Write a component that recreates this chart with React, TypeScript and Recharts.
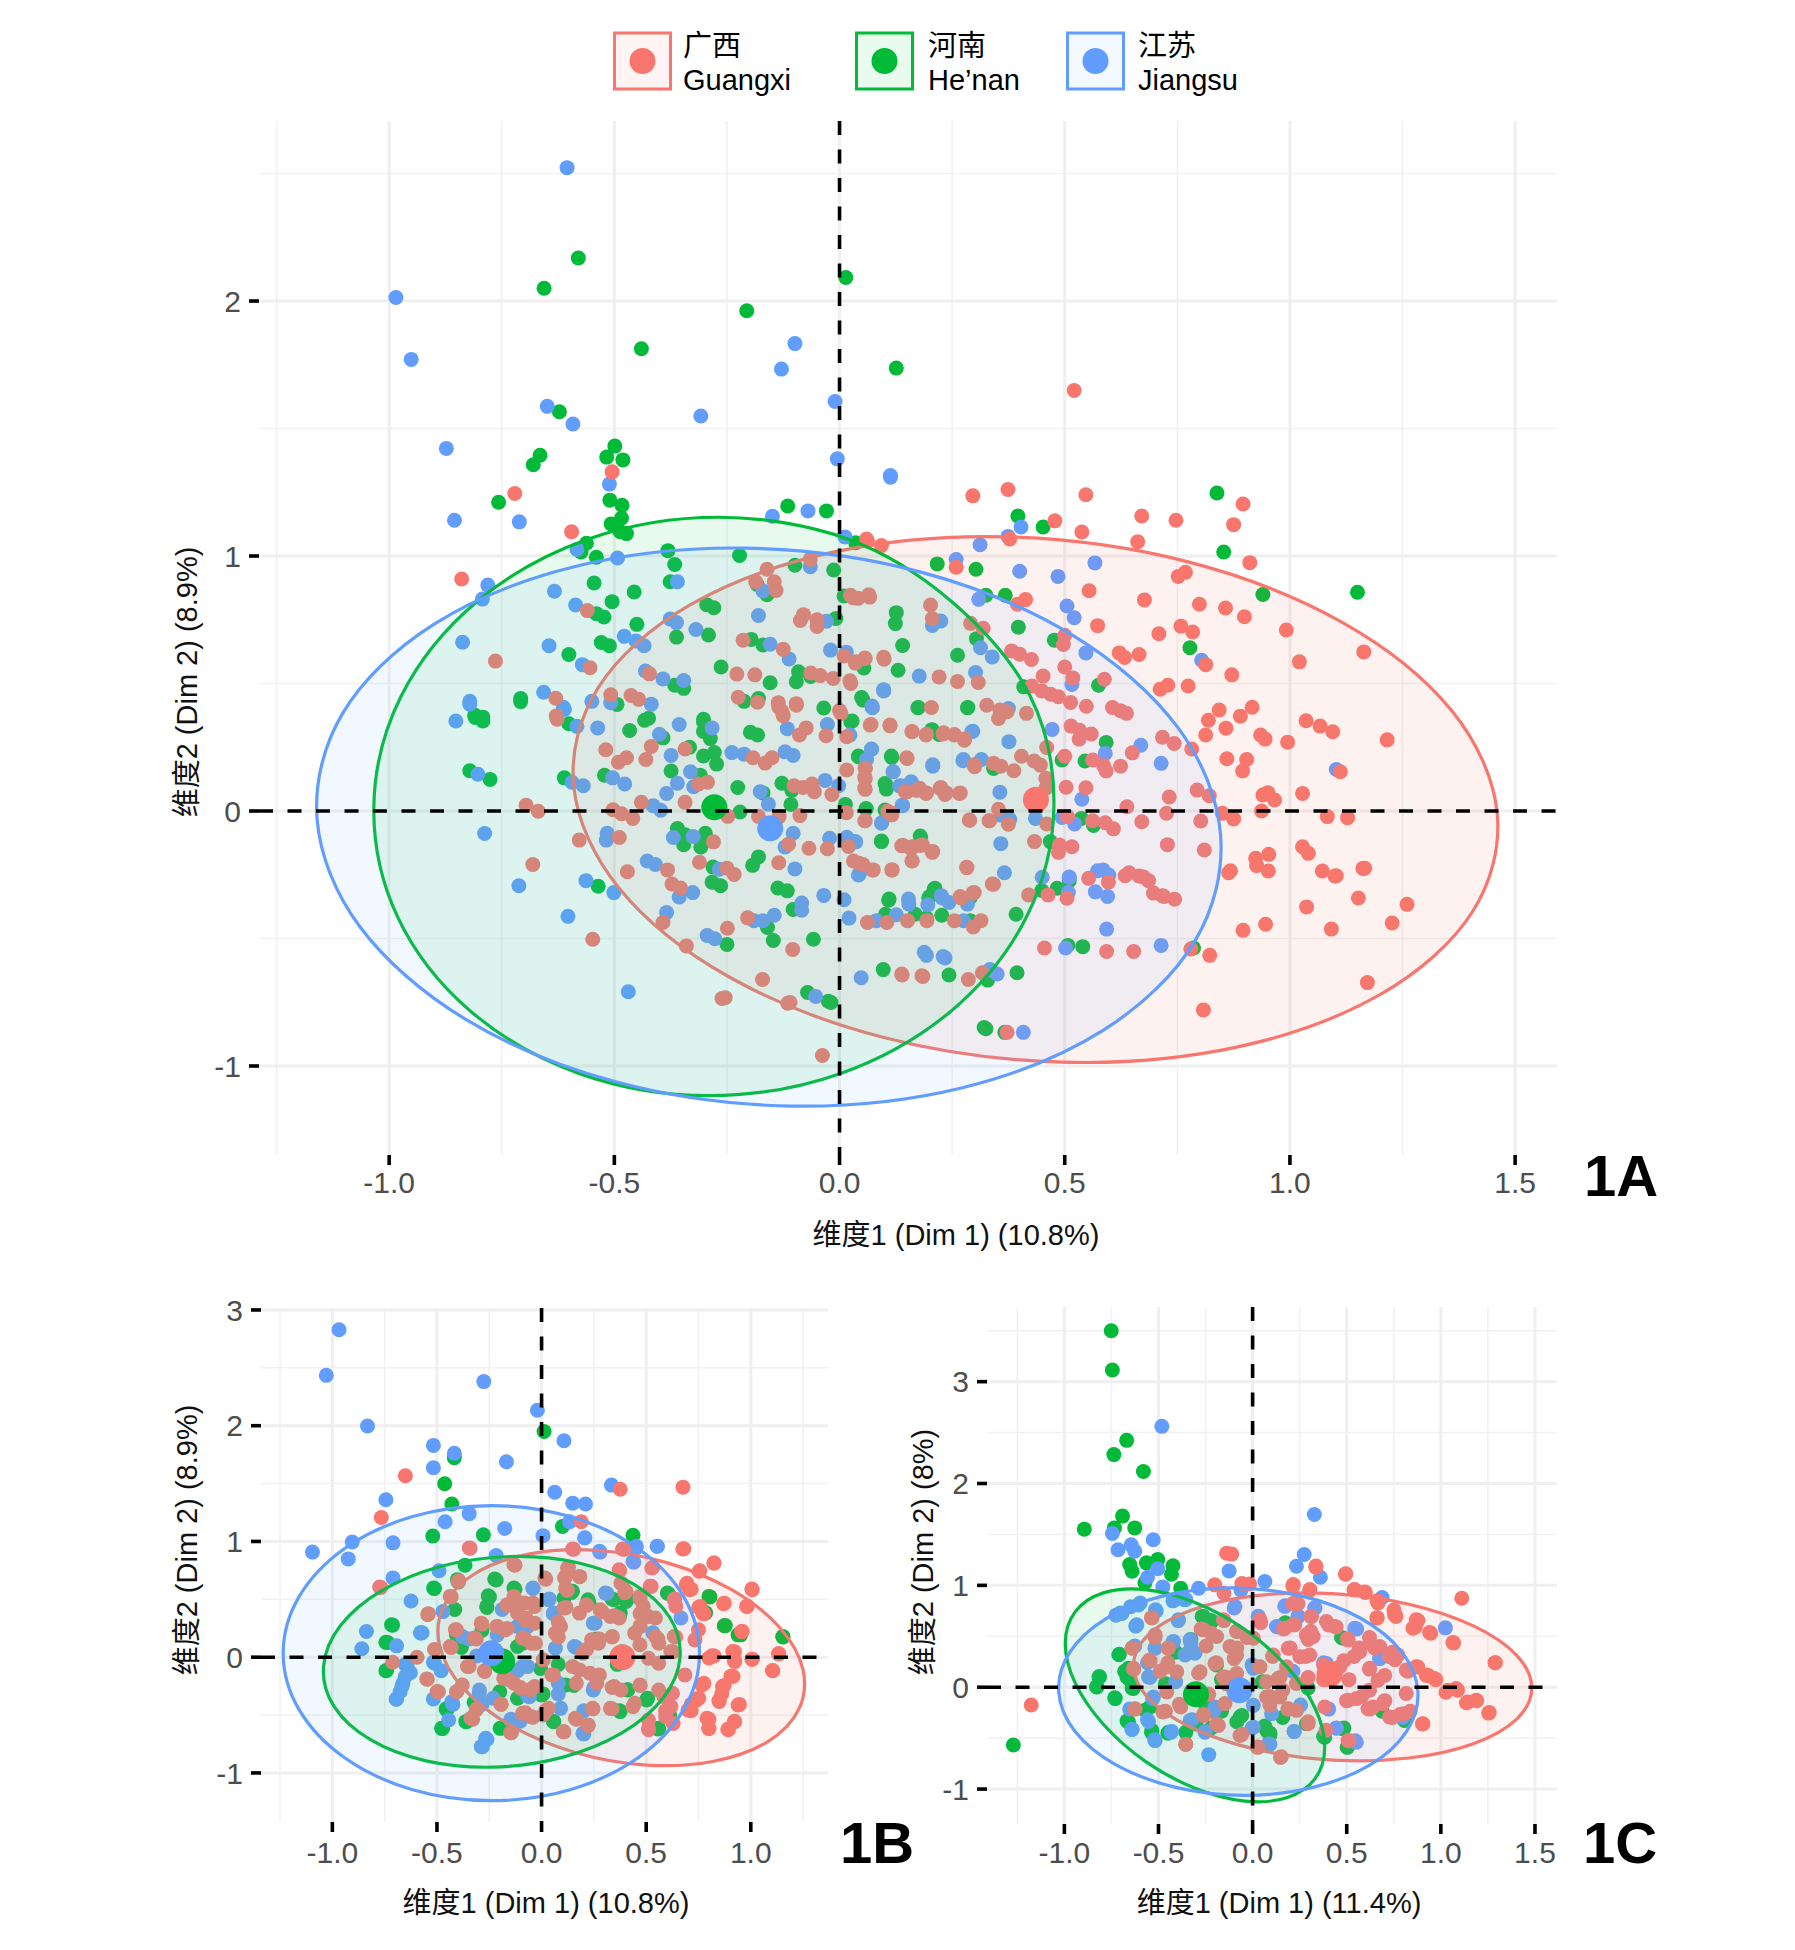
import { ScatterChart, Scatter, XAxis, YAxis, CartesianGrid } from 'recharts'

type Pair = [number, number]

const RED = '#F8766D'
const GREEN = '#00BA38'
const BLUE = '#619CFF'
const RED_FILL = '#F57D73'
const GREEN_FILL = '#19CD55'
const BLUE_FILL = '#73B9FF'

// panel 1A points
const aGreen: Pair[] = [[-.58,2.169],[-.656,2.05],[.014,2.092],[-.206,1.962],[-.44,1.813],[.126,1.737],[-.622,1.566],[-.499,1.431],[-.665,1.395],[-.68,1.358],[-.517,1.388],[-.481,1.377],[-.51,1.219],[-.483,1.199],[-.757,1.211],[-.484,1.149],[-.507,1.126],[-.487,1.095],[-.473,1.088],[-.562,1.05],[-.574,1.016],[-.54,.995],[-.115,1.196],[-.029,1.177],[-.222,1.002],[-.381,1.021],[-.366,.967],[-.376,.899],[-.545,.894],[-.456,.859],[-.505,.821],[-.295,.809],[-.279,.797],[-.099,.964],[-.013,.945],[.01,.843],[-.161,.848],[-.183,.889],[-.54,.774],[-.523,.761],[-.45,.732],[-.008,.755],[-.362,.682],[-.291,.69],[-.529,.661],[-.511,.648],[-.601,.614],[-.196,.673],[-.17,.651],[-.263,.565],[-.154,.503],[-.091,.546],[-.064,.528],[-.096,.507],[-.366,.493],[-.346,.481],[-.708,.441],[.049,.445],[-.212,.43],[-.18,.441],[-.035,.404],[-.302,.36],[-.81,.376],[-.792,.368],[-.424,.364],[-.494,.418],
  [.838,1.247],[.853,1.016],[1.15,.858],[.94,.849],[.396,1.157],[.452,1.114],[.036,1.052],[.217,.969],[.303,.948],[.325,.846],[.368,.846],[.397,.721],[.304,.676],[.778,.64],[.477,.67],[.126,.778],[.124,.735],[.14,.649],[.262,.611],[.13,.552],[.054,.561],[.575,.493],[.409,.487],[.052,.435],[.175,.406],[.285,.406],[.025,.35],[.206,.317],[.221,.3],[.592,.269],[.494,.2],[.545,.196],[.042,.213],[.116,.21],[.342,.167],[.101,.108],[.104,.086],[.059,.008],[.101,.004],[.537,-.029],[.564,-.057],[.18,-.103],[.093,-.12],[.468,-.12],[.212,-.303],[.483,-.303],[.11,-.345],[.2,-.335],
  [-.809,.367],[-.792,.353],[-.821,.158],[-.776,.124],[-.708,.429],[-.601,.342],[-.466,.316],[-.433,.356],[-.302,.35],[-.302,.312],[-.287,.284],[-.392,.287],[-.333,.25],[-.302,.216],[-.278,.229],[-.273,.184],[-.374,.157],[-.611,.13],[-.522,.14],[-.309,.14],[-.226,.092],[-.17,.071],[-.198,.309],[-.182,.298],[-.128,.109],[-.106,.081],[-.108,.026],[-.221,-.004],[-.36,-.069],[-.343,-.093],[-.346,-.132],[-.298,-.087],[-.303,-.114],[-.308,-.141],[-.281,-.22],[-.283,-.279],[-.264,-.293],[-.18,-.18],[-.193,-.213],[-.536,-.295],[-.137,-.302],[-.116,-.313],[-.103,-.386],[-.16,-.457],[-.147,-.508],[-.058,-.503],[-.25,-.523],[-.071,-.712],[-.025,-.746],[.028,.353],[.042,.216],[.115,.216],[.102,.106],[.013,.026],[.059,.01],[.093,-.118],[.179,-.098],[.21,-.306],[.198,-.341],[.109,-.35],[.102,-.405],[.168,-.405],[.227,-.409],[.097,-.622],[.243,-.643],[.329,-.663],[.321,-.849],[.174,.405],[.284,.405],[.205,.319],
  [.325,-.854],[.367,-.868],[.394,-.634],[.54,-.532],[.507,-.527],[.786,-.537],[-.019,-.751],[.449,-.312],[.51,-.273],[.392,-.405],[.29,-.34],[.29,-.43],[.193,-.42]]

const aBlue: Pair[] = [[-.605,2.523],[-.985,2.014],[-.951,1.771],[-.649,1.587],[-.592,1.518],[-.308,1.549],[-.129,1.733],[-.099,1.833],[-.01,1.606],[-.005,1.381],[.113,1.316],[-.873,1.422],[-.855,1.14],[-.711,1.134],[-.511,1.282],[-.149,1.156],[-.07,1.177],[.012,1.075],[-.583,1.026],[-.493,.992],[-.781,.886],[-.793,.831],[-.633,.862],[-.586,.808],[-.36,.899],[-.837,.662],[-.645,.648],[-.478,.685],[-.434,.648],[-.452,.667],[-.376,.753],[-.362,.739],[-.319,.712],[-.18,.767],[-.17,.863],[-.065,.958],[-.029,.744],[-.154,.654],[-.02,.631],[.015,.623],[-.571,.574],[-.431,.549],[-.392,.518],[-.346,.512],[-.112,.596],[-.657,.466],[-.821,.43],[-.613,.407],[-.55,.43],[-.508,.425],[-.418,.419],[.098,.476],[.072,.412],[-.852,.353],
  [.113,1.309],[.403,1.114],[.374,1.077],[.312,1.044],[.259,.986],[.567,.973],[.4,.94],[.485,.92],[.309,.83],[.505,.804],[.521,.758],[.206,.728],[.225,.745],[.547,.62],[.313,.64],[.339,.604],[.302,.543],[.516,.496],[.177,.529],[.098,.471],[.073,.405],[.375,.402],[.472,.32],[.296,.313],[.376,.272],[.669,.258],[.071,.242],[.59,.226],[.274,.197],[.315,.202],[.714,.187],[.207,.176],[.119,.154],[1.103,.163],[.804,.591],[.06,.202],[.133,.098],[.159,.115],[.356,.074],[.538,.046],[.14,.021],[.358,-.016],[.378,-.033],[.435,-.029],[.494,-.025],[.522,-.051],[.093,-.048],[.358,-.128],[.033,-.12],[.042,-.251],[.366,-.242],[.45,-.26],[.51,-.261],[.585,-.231],[.598,-.251],[.226,-.332],[.508,-.32],[.568,-.317],[.595,-.335],[.153,-.345],
  [-.821,.419],[-.803,.144],[-.788,-.088],[-.712,-.293],[-.563,-.273],[-.501,-.32],[-.603,-.413],[-.469,-.709],[-.611,.398],[-.583,.332],[-.537,.326],[-.594,.113],[-.569,.099],[-.504,.13],[-.477,.106],[-.4,.301],[-.356,.339],[-.283,.326],[-.374,.218],[-.331,.154],[-.36,.109],[-.384,.069],[-.324,.095],[-.414,.021],[-.397,.003],[-.516,-.087],[-.518,-.114],[-.369,-.104],[-.325,-.1],[-.427,-.196],[-.409,-.21],[-.267,-.228],[-.356,-.337],[-.326,-.32],[-.384,-.398],[-.294,-.488],[-.277,-.501],[-.239,.229],[-.212,.223],[-.176,.076],[-.158,.027],[-.121,.232],[-.103,.218],[-.116,.323],[-.027,.339],[.023,.298],[.072,.408],[.071,.243],[-.103,-.087],[-.121,-.141],[-.099,-.227],[-.022,-.107],[.016,-.103],[.036,-.121],[.044,-.247],[-.032,.12],[-.002,.099],[.119,.154],[.139,.023],[.094,-.045],[.207,.181],[.275,.202],[.294,.312],[.161,.106],[.136,.099],[-.035,-.331],[.01,-.348],[-.084,-.361],[-.084,-.389],[-.145,-.409],[-.17,-.43],[-.19,-.43],[.021,-.42],[.082,-.43],[.126,-.407],[.154,-.365],[.196,-.368],[.228,-.341],[.243,-.359],[.284,-.365],[.275,-.43],[.188,-.554],[.23,-.571],[.048,-.654],[-.053,-.727],[.334,-.622],
  [.408,-.868],[.502,-.537],[.593,-.463],[.714,-.527],[.336,-.624],[.35,-.639],[.193,-.566],[.234,-.576],[.573,-.234],[.51,-.259]]

const aRed: Pair[] = [[-.505,1.33],[-.721,1.245],[-.595,1.095],[-.839,.91],[.06,1.067],[.093,1.041],[-.065,.987],[-.161,.948],[-.186,.899],[-.145,.899],[-.141,.865],[.024,.846],[.041,.834],[.065,.848],[-.08,.77],[-.087,.747],[-.05,.75],[-.05,.724],[-.56,.786],[-.214,.67],[-.125,.634],[-.764,.588],[-.554,.562],[-.422,.538],[-.064,.541],[-.043,.531],[-.014,.52],[.023,.511],[.01,.608],[.035,.58],[.056,.6],[.098,.603],[-.228,.537],[-.188,.534],[-.508,.456],[-.463,.453],[-.446,.438],[-.63,.442],[-.225,.446],[-.182,.427],[-.136,.425],[-.096,.421],[-.128,.391],[0,.394],[-.629,.373],
  [.296,1.236],[.374,1.261],[.547,1.24],[.478,1.138],[.538,1.094],[.671,1.157],[.747,1.14],[.662,1.056],[.896,1.204],[.875,1.123],[.911,.974],[.378,1.067],[.062,1.059],[.259,.956],[.768,.936],[.752,.92],[.554,.864],[.677,.828],[.799,.811],[.857,.796],[.899,.762],[.395,.811],[.413,.829],[.573,.727],[.758,.725],[.784,.702],[.709,.695],[.992,.71],[1.164,.624],[.5,.689],[.497,.653],[.291,.736],[.319,.717],[1.021,.585],[.813,.574],[.621,.62],[.633,.602],[.665,.614],[.382,.628],[.4,.615],[.426,.594],[.871,.534],[.5,.565],[.518,.522],[.452,.529],[.588,.517],[.729,.493],[.712,.478],[.774,.49],[.427,.49],[.449,.471],[.469,.458],[.486,.448],[.513,.426],[.548,.411],[.916,.407],[.843,.396],[.89,.372],[.819,.356],[.606,.406],[.624,.393],[.637,.383],[1.036,.354],[1.067,.333],[1.095,.311],[.858,.325],[.813,.298],[.935,.298],[.945,.282],[.995,.27],[1.216,.279],[.514,.333],[.533,.317],[.559,.302],[.532,.282],[.717,.289],[.743,.265],[.782,.243],[.65,.228],[.86,.205],[.904,.202],[.895,.157],[.5,.215],[.562,.2],[.586,.178],[.592,.157],[.624,.176],[1.112,.154],[.503,.093],[.547,.091],[.794,.082],[.821,.06],[.732,.055],[.638,.017],[.726,-.009],[.94,.063],[.951,.072],[.966,.043],[1.028,.069],[.937,0],[.85,-.009],[.875,-.031],[1.083,-.022],[1.128,-.026],[.506,-.022],[.671,-.042],[.802,-.039],[.562,-.038],[.59,-.046],[.608,-.07],[.728,-.132],[.81,-.153],[.488,-.133],[.516,-.14],[.486,-.162],[.953,-.17],[1.028,-.14],[1.041,-.166],[.926,-.214],[.952,-.235],[.864,-.242],[1.072,-.235],[1.1,-.255],[1.162,-.225],[.643,-.242],[.665,-.255],[.686,-.273],[.553,-.264],[.597,-.279],[.697,-.322],[.72,-.335],[.463,-.329],[.505,-.342],
  [.031,.836],[.067,.839],[.202,.808],[.206,.755],[.057,.598],[.037,.585],[.099,.595],[.221,.526],[.262,.508],[.308,.504],[.025,.5],[.204,.406],[.327,.415],[.356,.396],[.372,.389],[.353,.363],[.415,.383],[.068,.337],[.112,.334],[.161,.311],[.192,.298],[.231,.307],[.255,.3],[.277,.278],[.46,.249],[.404,.215],[.432,.196],[.446,.18],[.15,.206],[.3,.174],[.342,.187],[.358,.176],[.387,.158],[.057,.167],[.056,.134],[.056,.091],[.458,.128],[.458,.089],[.15,.076],[.178,.089],[.192,.069],[.223,.089],[.234,.065],[.266,.069],[.353,.007],[.288,-.035],[.333,-.038],[.375,-.052],[.46,-.051],[.116,-.009],[.056,-.038],[.433,-.12],[.138,-.136],[.161,-.14],[.184,-.133],[.206,-.162],[.161,-.195],[.043,-.205],[.073,-.231],[.116,-.231],[.283,-.222],[.342,-.287],[.296,-.322],[.268,-.335],[.42,-.329],
  [-.696,.023],[-.669,-.001],[-.627,.36],[-.578,-.114],[-.489,-.104],[-.681,-.21],[-.471,-.238],[-.548,-.503],[-.503,.005],[-.484,-.011],[-.459,-.029],[-.44,.034],[-.343,.034],[-.519,.24],[-.491,.191],[-.473,.209],[-.43,.202],[-.418,.253],[-.343,.243],[-.313,.106],[-.293,.113],[-.248,-.021],[-.28,-.121],[-.311,-.201],[-.382,-.231],[-.25,-.224],[-.234,-.249],[-.372,-.286],[-.353,-.302],[-.392,-.437],[-.34,-.529],[-.249,-.46],[-.204,-.419],[-.104,-.543],[-.171,-.661],[-.261,-.735],[-.115,-.754],[-.038,-.959],[-.192,.209],[-.165,.188],[-.15,.209],[-.089,.298],[-.074,.326],[-.03,.295],[.016,.291],[.07,.339],[.112,.337],[.161,.312],[.193,.301],[.23,.302],[.255,.298],[.278,.282],[-.135,.408],[-.125,.374],[-.096,.415],[.003,.383],[-.101,.099],[-.081,.092],[-.056,.076],[-.017,.065],[-.061,.106],[.057,.168],[.057,.126],[.057,.085],[.016,.161],[.149,.209],[.299,.181],[.146,.076],[.171,.081],[.193,.071],[.225,.092],[.237,.071],[.268,.071],[.107,-.001],[.116,-.015],[.015,-.007],[.057,-.038],[-.088,-.018],[-.134,-.022],[-.18,-.021],[.289,-.036],[.332,-.038],[-.113,-.13],[-.068,-.146],[-.027,-.148],[.02,-.139],[.141,-.135],[.159,-.148],[.179,-.135],[.207,-.159],[.161,-.196],[-.135,-.203],[.031,-.196],[.052,-.21],[.075,-.231],[.117,-.231],[.282,-.221],[.299,-.32],[.27,-.341],[.339,-.286],[.062,-.437],[.105,-.437],[.151,-.43],[.194,-.43],[.255,-.43],[.297,-.455],[.314,-.43],[.139,-.643],[.183,-.646],[.286,-.661],
  [1.172,-.673],[.808,-.78],[.896,-.468],[.946,-.444],[1.037,-.376],[1.092,-.463],[1.227,-.439],[1.26,-.366],[1.152,-.341],[1.103,-.254],[1.166,-.224],[.868,-.234],[.924,-.185],[.822,-.566],[.78,-.541],[.653,-.551],[.593,-.551],[.455,-.537],[.372,-.868],[.317,-.634],[.185,-.649],[.138,-.639],[-.11,-.751],[-.254,-.732],[.634,-.254],[.675,-.259],[.717,-.332],[.744,-.346],[.521,1.649]]

// panel 1B points
const bGreen: Pair[] = [[.012,1.95],[-.417,1.724],[-.463,1.498],[-.429,1.323],[.1,1.13],[-.52,1.046],[-.278,1.057],[.437,1.054],[-.366,.795],[-.217,.667],[-.512,.594],[.805,.521],[-.398,.649],[-.249,.521],[-.261,.43],[-.415,.412],[-.127,.587],[.141,.558],[.337,.503],[.41,.503],[.605,.55],[.878,.273],[.951,.193],[1.154,.175],[.783,.386],[-.712,.277],[-.744,.128],[-.744,-.117],[-.578,.211],[-.407,.193],[-.383,.084],[-.285,.23],[-.09,.12],[.227,.467],[.263,.157],[.373,.357],[.385,.047],[.361,-.062],[-.005,-.098],[.08,-.062],[.154,-.244],[-.2,-.299],[-.115,-.354],[.007,-.317],[-.322,-.39],[-.456,-.445],[-.354,-.554],[-.473,-.616],[-.188,-.609],[.056,-.554],[.373,-.463],[.41,-.281],[.507,-.354],[.556,-.62],[.612,-.499],
  [-.717,.28],[-.736,.127],[-.741,-.115],[-.516,.597],[-.402,.67],[-.255,.531],[-.262,.439],[-.224,.675],[-.132,.597],[.148,.569],[.107,.511],[.346,.496],[.404,.482],[.222,.496],[.376,.381],[-.115,.092],[-.478,-.615],[-.362,-.557],[-.453,-.456],[-.198,-.615],[.058,-.557],[0,-.326],[.115,-.24],[.376,-.47],[.56,-.615],[.502,-.369],[.412,-.283],[.601,.554],[.8,.525],[.873,.271],[.939,.193],[1.153,.179],[.783,.381]]

const bBlue: Pair[] = [[-.968,2.829],[-1.029,2.435],[-.276,2.381],[-.02,2.133],[-.832,1.998],[.107,1.87],[-.517,1.83],[-.417,1.761],[-.517,1.637],[-.168,1.688],[.334,1.487],[.063,1.425],[-.744,1.36],[.149,1.331],[.21,1.323],[-.346,1.24],[-.461,1.17],[.134,1.17],[-.176,1.112],[.007,1.05],[.207,1.032],[-.71,.988],[-.905,.995],[-1.095,.908],[-.924,.849],[.28,.908],[.451,.941],[.554,.959],[-.217,.879],[.441,.82],[-.49,.747],[-.71,.685],[-.624,.485],[-.041,.594],[.312,.55],[-.837,.222],[-.859,.073],[-.693,.098],[-.571,.211],[-.471,.394],[-.188,.412],[.037,.503],[.256,.295],[.166,.084],[.532,.211],[.666,.339],[.251,-.262],[.08,-.317],[-.066,-.08],[-.115,-.117],[-.31,.011],[-.346,.157],[-.212,.193],[-.066,.266],[.056,.376],[-.651,-.062],[-.627,-.135],[-.663,-.226],[-.676,-.299],[-.693,-.361],[-.517,-.044],[-.48,-.117],[-.517,-.361],[-.424,-.408],[-.444,-.543],[-.298,-.317],[-.285,-.408],[-.261,-.711],[-.283,-.773],[-.066,-.335],[-.146,-.536],[-.102,-.554],[.202,-.463],[.202,-.664],[.08,-.226],
  [-.643,-.081],[-.651,-.167],[-.667,-.254],[-.695,-.364],[-.577,.208],[-.511,-.052],[-.428,-.384],[-.297,-.283],[-.231,-.355],[-.091,-.081],[-.058,-.341],[.091,-.442],[.198,-.658],[.247,-.283],[.157,.092],[.247,.294],[.305,.554],[.066,.078],[.058,.381],[.033,.496],[-.041,.597],[-.115,.266],[-.379,.179],[.437,.828],[.453,.958],[.206,1.03],[.277,.915],[.552,.958],[-.267,-.701],[-.288,-.773],[-.148,-.543]]

const bRed: Pair[] = [[-.651,1.568],[.376,1.451],[.676,1.469],[-.766,1.207],[.19,1.17],[-.341,.941],[.154,.933],[.393,.933],[.68,.937],[-.127,.795],[.824,.813],[.756,.747],[.532,.777],[.373,.747],[.02,.674],[.129,.777],[.183,.696],[.11,.685],[.695,.638],[.715,.587],[1.007,.583],[-.768,.602],[-.395,.66],[.524,.612],[.385,.631],[.637,.503],[.983,.441],[.873,.467],[.751,.43],[.776,.376],[-.432,.521],[.124,.576],[.398,.558],[.471,.503],[-.163,.448],[-.115,.478],[-.041,.467],[.117,.43],[.215,.448],[.288,.394],[.349,.357],[.471,.376],[.544,.339],[-.541,.376],[-.078,.321],[.08,.303],[-.285,.284],[-.212,.266],[-.163,.248],[-.407,.237],[.471,.266],[.337,.175],[.556,.157],[.959,.222],[.641,.175],[-.078,.157],[-.029,.12],[.08,.175],[-.312,.157],[.215,.066],[.276,.157],[-.432,.084],[-.512,.066],[-.595,0],[-.712,-.044],[.629,.047],[.824,.011],[.922,.047],[1.134,.029],[1.007,-.018],[.922,-.026],[.8,-.007],[1.105,-.117],[-.346,-.08],[-.273,-.117],[-.163,-.19],[-.102,-.262],[-.054,-.281],[.056,-.153],[.166,-.226],[.276,-.153],[.337,-.262],[.471,-.244],[.685,-.153],[.776,-.226],[.905,-.164],[.873,-.244],[.861,-.317],[.849,-.383],[.751,-.354],[.715,-.408],[.946,-.408],[.922,-.554],[.893,-.627],[.8,-.536],[.8,-.616],[.629,-.572],[.512,-.627],[.593,-.463],[.437,-.427],[.337,-.445],[.246,-.445],[.166,-.536],[.222,-.591],[.107,-.645],[-.144,-.653],[-.078,-.481],[-.041,-.518],[.02,-.463],[-.193,-.408],[-.329,-.536],[-.31,-.445],[-.407,-.299],[-.493,-.299],[-.546,-.19],[.715,-.463],
  [-.165,.453],[-.132,.525],[-.082,.468],[-.033,.439],[-.115,.381],[-.074,.338],[-.033,.294],[-.091,.165],[-.049,.121],[.066,.208],[.091,.266],[.107,.424],[.181,.381],[.214,.453],[.28,.41],[.329,.352],[.371,.338],[.47,.525],[.486,.439],[.511,.352],[.47,.266],[.445,.208],[.338,.179],[.239,.15],[.272,.121],[.47,.107],[.544,.179],[.56,.121],[.618,.049],[.642,.439],[.634,.496],[.692,.626],[.708,.583],[.758,.439],[.77,.381],[.634,.179],[.733,.15],[.75,.237],[.379,.641],[.404,.569],[.115,.698],[.181,.698],[.115,.597],[.016,.684],[-.132,.799],[.124,.771],[.371,.756],[.527,.771],[.519,.612],[.198,.035],[.511,-.009],[.56,-.052],[.148,-.081],[.181,-.11],[.231,-.139],[.264,-.225],[.346,-.254],[.379,-.283],[.47,-.24],[.56,-.283],[.585,-.341],[.626,-.312],[.618,-.427],[.593,-.514],[.511,-.543],[.511,-.615],[.445,-.398],[.329,-.442],[.244,-.442],[.161,-.528],[.223,-.586],[.104,-.644],[.033,-.442],[.008,-.499],[-.049,-.514],[-.091,-.485],[-.148,-.652],[-.194,-.404],[-.313,-.456],[-.338,-.528],[-.379,-.24],[-.404,-.297],[-.499,-.297],[-.549,-.188],[-.272,-.124],[-.354,-.081],[-.181,-.182],[-.132,-.225],[-.099,-.268],[-.033,-.254],[.049,-.153],[.008,-.023],[-.437,.092],[-.321,.165],[-.412,.237],[-.288,.294],[-.214,.266],[-.173,.237],[-.4,.655],[-.437,.525],[-.544,.367],[-.774,.606],[-.346,.944],[.148,.935],[.387,.935],[.675,.935],[.824,.814],[.753,.742],[1.005,.589],[.98,.439],[.87,.462],[.956,.222],[.815,.012],[.914,.049],[.923,-.038],[1.005,-.017],[1.133,.029],[1.104,-.115],[.766,-.24],[.741,-.369],[.7,-.456],[.915,-.167],[.865,-.254],[.848,-.375],[.939,-.413],[.791,-.528],[.799,-.615],[.923,-.557],[.89,-.623]]

// panel 1C points
const cGreen: Pair[] = [[-.751,3.5],[-.745,3.115],[-.669,2.424],[-.737,2.284],[-.58,2.118],[-.691,1.68],[-.894,1.552],[-.734,1.564],[-.626,1.564],[-.504,1.254],[-.564,1.221],[-.653,1.204],[-.64,1.138],[-.423,1.192],[-.431,1.109],[-.572,1.026],[-.382,.972],[-.268,.695],[-.22,.654],[.173,.633],[.472,.488],[-.328,.468],[-.71,.319],[-.68,.157],[-.653,.074],[-.816,.103],[-.829,.004],[-.732,-.103],[-.64,-.008],[-.409,.343],[-.192,.219],[-.463,.033],[-.301,-.07],[-.165,.074],[-.545,-.194],[-.667,-.331],[-.537,-.443],[-.45,-.451],[-.355,-.443],[-1.271,-.567],[-.057,-.277],[-.084,-.339],[.065,-.381],[.092,-.451],[.16,-.298],[.377,-.484],[.485,-.401],[.504,-.588],[.805,-.319],[.688,-.236],[-.165,-.236],[-.301,-.36],[-.22,-.401],[-.247,-.194],[.051,.054],[.295,-.008],
  [-.708,.323],[-.66,.185],[-.668,.102],[-.73,-.112],[-.633,-.013],[-.813,.102],[-.827,.003],[-.571,-.227],[-.659,-.343],[-.535,-.425],[-.447,-.442],[-.067,-.293],[.074,-.425],[.092,-.474],[-.261,.695],[-.217,.646],[.481,.481],[.502,-.59],[.481,-.409],[.383,-.491],[.286,-.359],[.807,-.326],[-.279,-.063]]

const cBlue: Pair[] = [[-.482,2.561],[.328,1.696],[-.745,1.51],[-.528,1.448],[-.715,1.349],[-.645,1.398],[-.626,1.336],[.274,1.303],[.233,1.187],[-.125,1.142],[-.504,1.163],[-.558,1.08],[.36,1.08],[.065,1.038],[-.477,.985],[-.287,.972],[-.062,.956],[-.355,.861],[-.423,.848],[.688,.881],[-.607,.807],[-.648,.79],[-.694,.724],[-.726,.707],[-.512,.749],[-.098,.778],[.173,.799],[.331,.778],[-.621,.6],[-.396,.654],[.03,.695],[.241,.695],[.553,.571],[1.024,.583],[-.423,.447],[-.328,.426],[-.341,.343],[-.626,.405],[-.518,.385],[.133,.592],[.377,.24],[.675,.281],[-.545,.095],[-.558,.24],[-.409,.054],[-.003,.219],[-.07,-.029],[.214,.157],[-.531,-.112],[-.653,-.215],[-.558,-.319],[-.64,-.414],[-.52,-.517],[-.431,-.434],[-.322,-.319],[-.233,-.662],[-.206,-.236],[-.252,-.434],[-.003,-.401],[.092,-.559],[.22,-.434],[.444,-.401],[.545,-.525],[.404,-.215],[.797,-.298],[.255,-.174],
  [-.094,-.03],[.004,.185],[-.332,.465],[-.42,.448],[-.359,.316],[-.306,.333],[-.518,.382],[-.553,.102],[-.394,.662],[-.516,.761],[-.615,.613],[-.703,.728],[-.597,.827],[-.415,.86],[-.362,.86],[-.094,.794],[.03,.695],[.127,.596],[.242,.695],[.171,.794],[.33,.778],[.543,.58],[.675,.283],[.392,.234],[-.2,-.194],[.004,-.178],[.101,-.26],[.004,-.392],[.221,-.435],[.083,-.557],[.445,-.402],[.551,-.54],[-.518,-.524],[-.433,-.442],[-.641,-.415],[-.553,-.336],[-.332,-.326],[-.253,-.442],[-.527,-.096]]

const cRed: Pair[] = [[-.138,1.316],[-.111,1.307],[.336,1.179],[.493,1.109],[-.057,1.018],[-.016,1.014],[-.201,1.005],[.214,.993],[.304,.952],[.539,.956],[.599,.931],[1.111,.873],[-.152,.923],[.661,.848],[.661,.683],[.214,.819],[.241,.819],[.751,.757],[.762,.695],[-.537,.683],[.878,.654],[.864,.592],[.946,.53],[1.068,.434],[1.29,.24],[.043,.633],[-.152,.654],[.309,.695],[.404,.612],[.444,.592],[.165,.571],[.214,.612],[.309,.55],[.295,.468],[.504,.476],[.621,.488],[-.274,.571],[-.22,.53],[-.084,.55],[-.03,.488],[-.518,.488],[-.64,.385],[-.45,.385],[-.247,.405],[-.084,.385],[.2,.385],[.566,.385],[.648,.385],[-.545,.261],[-.45,.24],[.106,.302],[.282,.302],[.539,.302],[.743,.343],[.756,.269],[-.098,.281],[-.192,.24],[.377,.219],[.431,.178],[.485,.261],[.621,.178],[.702,.116],[.824,.157],[.878,.199],[.932,.116],[.973,.074],[-.631,.178],[-.491,.157],[-.287,.137],[-.138,.095],[.038,.199],[.146,.095],[.512,.074],[.295,.095],[.377,.074],[.621,-.029],[.816,-.062],[1.027,-.05],[1.089,-.029],[-.233,-.07],[-.138,.033],[.092,-.091],[.16,-.029],[.58,-.091],[.499,-.132],[.702,-.132],[.621,-.215],[.743,-.298],[.783,-.269],[.837,-.236],[1.136,-.153],[1.19,-.132],[1.257,-.248],[.902,-.36],[-1.176,-.174],[-.382,-.194],[-.463,-.236],[-.626,-.215],[-.192,-.36],[-.26,-.277],[-.057,-.463],[-.355,-.559],[.024,-.588],[.152,-.683],[.295,-.339],[.187,-.215],[.39,-.422],[.512,-.525],[.092,-.174],
  [.392,.168],[.463,.201],[.569,.349],[.622,.432],[.675,.399],[.286,.514],[.322,.498],[.251,.3],[.304,.316],[.189,.382],[.11,.316],[.171,.58],[.224,.613],[.313,.695],[.392,.646],[.436,.596],[.507,.465],[.622,.185],[.666,.069],[.693,-.161],[.551,-.112],[.507,-.128],[.613,-.211],[.728,.3],[.772,.316],[.816,.168],[.869,.201],[.922,.119],[.966,.086],[1.037,-.03],[1.081,-.013],[1.143,-.145],[1.187,-.128],[1.254,-.254],[1.288,.241],[1.064,.438],[.94,.537],[.869,.662],[.852,.58],[.754,.712],[.666,.827],[.661,.679],[.542,.959],[.595,.936],[.495,1.114],[.336,1.189],[.216,1.008],[.304,.959],[.224,.827],[.039,.662],[-.085,.547],[-.155,.662],[-.261,.563],[-.191,.498],[-.12,.399],[-.085,.316],[.004,.481],[.039,.201],[-.2,.234],[-.279,.152],[-.155,.102],[-.085,.135],[.074,.053],[.136,.086],[.18,.201],[.233,.036],[.074,-.096],[.145,-.096],[.189,-.211],[.233,-.227],[.295,-.359],[.383,-.194],[.507,-.524],[.148,-.689],[.03,-.59],[-.067,-.474],[-.182,-.376],[-.261,-.267],[-.389,-.168],[-.477,-.244],[-.456,-.046],[-.624,-.211],[-.355,-.563],[-.518,.514],[-.535,.679],[-.641,.382],[-.633,.185],[-.548,.267],[-.447,.382],[-.456,.201],[-.403,.152],[-.147,-.161],[.905,-.359],[.64,-.194],[.728,-.293],[.799,-.26]]

// confidence ellipse outlines
const aRedHull: Pair[] = [[1.46,-.005],[1.359,.394],[1.118,.738],[.772,.978],[.375,1.075],[-.012,1.016],[-.332,.808],[-.535,.486],[-.59,.095],[-.489,-.304],[-.248,-.648],[.098,-.888],[.495,-.985],[.882,-.926],[1.202,-.718],[1.405,-.396]]
const aGreenHull: Pair[] = [[.476,.018],[.423,.452],[.25,.82],[.019,1.066],[-.269,1.152],[-.559,1.066],[-.806,.82],[-.973,.452],[-1.034,.018],[-.981,-.416],[-.82,-.784],[-.577,-1.03],[-.289,-1.116],[.001,-1.03],[.248,-.784],[.415,-.416]]
const aBlueHull: Pair[] = [[.846,-.093],[.751,.328],[.517,.69],[.181,.937],[-.207,1.031],[-.587,.959],[-.901,.732],[-1.103,.384],[-1.16,-.033],[-1.065,-.454],[-.831,-.816],[-.495,-1.063],[-.107,-1.157],[.273,-1.085],[.587,-.858],[.789,-.51]]
const bRedHull: Pair[] = [[1.249,-.104],[1.137,.259],[.91,.581],[.602,.815],[.261,.924],[-.062,.891],[-.318,.723],[-.467,.443],[-.487,.096],[-.375,-.267],[-.148,-.589],[.16,-.823],[.501,-.932],[.824,-.899],[1.08,-.731],[1.229,-.451]]
const bGreenHull: Pair[] = [[.662,0],[.612,.345],[.44,.631],[.173,.816],[-.15,.87],[-.479,.786],[-.764,.575],[-.962,.271],[-1.042,-.08],[-.992,-.425],[-.82,-.711],[-.553,-.896],[-.23,-.95],[.099,-.866],[.384,-.655],[.582,-.351]]
const bBlueHull: Pair[] = [[.755,.035],[.679,.523],[.463,.937],[.141,1.213],[-.24,1.31],[-.621,1.213],[-.943,.937],[-1.159,.523],[-1.235,.035],[-1.159,-.453],[-.943,-.867],[-.621,-1.143],[-.24,-1.24],[.141,-1.143],[.463,-.867],[.679,-.453]]
const cRedHull: Pair[] = [[1.483,-.008],[1.403,.313],[1.173,.602],[.83,.815],[.425,.919],[.02,.899],[-.323,.758],[-.553,.517],[-.633,.212],[-.553,-.109],[-.323,-.398],[.02,-.611],[.425,-.715],[.83,-.695],[1.173,-.554],[1.403,-.313]]
const cGreenHull: Pair[] = [[.383,-.59],[.331,-.202],[.181,.204],[-.042,.568],[-.306,.832],[-.57,.958],[-.793,.926],[-.943,.74],[-.995,.43],[-.943,.042],[-.793,-.364],[-.57,-.728],[-.306,-.992],[-.042,-1.118],[.181,-1.086],[.331,-.9]]
const cBlueHull: Pair[] = [[.878,-.043],[.792,.347],[.574,.677],[.257,.897],[-.111,.975],[-.473,.897],[-.776,.677],[-.97,.347],[-1.03,-.043],[-.944,-.433],[-.726,-.763],[-.409,-.983],[-.041,-1.061],[.321,-.983],[.624,-.763],[.818,-.433]]

// group means: red, green, blue
const aMeans: Pair[] = [[.436,.044],[-.278,.015],[-.154,-.068]]
const bMeans: Pair[] = [[.386,0],[-.188,-.036],[-.241,.033]]
const cMeans: Pair[] = [[.409,.128],[-.301,-.07],[-.07,-.03]]

const rows = (list: Pair[]) => list.map(([x, y]) => ({ x, y }))

// closed smooth path through the scaled hull points
function hullPath(pts: { x: number; y: number }[]) {
  const n = pts.length
  let d = `M${pts[0].x},${pts[0].y}`
  for (let i = 0; i < n; i++) {
    const p0 = pts[(i - 1 + n) % n]
    const p1 = pts[i]
    const p2 = pts[(i + 1) % n]
    const p3 = pts[(i + 2) % n]
    const c1x = p1.x + (p2.x - p0.x) / 6
    const c1y = p1.y + (p2.y - p0.y) / 6
    const c2x = p2.x - (p3.x - p1.x) / 6
    const c2y = p2.y - (p3.y - p1.y) / 6
    d += `C${c1x},${c1y},${c2x},${c2y},${p2.x},${p2.y}`
  }
  return d + 'Z'
}

const dot = (r: number, fill: string) => (p: any) => <circle cx={p.cx} cy={p.cy} r={r} fill={fill} />
const noDot = () => <g />

const hullLine = (color: string, fill: string) => (p: any) => (
  <path d={hullPath(p.points)} fill={fill} fillOpacity={0.1} stroke={color} strokeWidth={3.2} />
)

interface PanelProps {
  plot: { left: number; top: number; right: number; bottom: number }
  xDomain: [number, number]
  yDomain: [number, number]
  xTicks: number[]
  yTicks: number[]
  xMinor: number[]
  yMinor: number[]
  xTickMargin: number
  points: [Pair[], Pair[], Pair[]]
  hulls: [Pair[], Pair[], Pair[]]
  means: Pair[]
}

const tickStyle = { fontSize: 30, fill: '#4D4D4D', fontFamily: "'Liberation Sans', sans-serif" }
const dashLine = { stroke: '#000', strokeWidth: 3.6, strokeDasharray: '14 14.5' }

function Panel({ plot, xDomain, yDomain, xTicks, yTicks, xMinor, yMinor, xTickMargin, points, hulls, means }: PanelProps) {
  const [redPts, greenPts, bluePts] = points
  const [redHull, greenHull, blueHull] = hulls
  const w = plot.right - plot.left
  const h = plot.bottom - plot.top
  return (
    <div style={{ position: 'absolute', left: plot.left - 80, top: plot.top - 20 }}>
      <ScatterChart width={w + 90} height={h + 80} margin={{ top: 20, right: 10, bottom: 0, left: 0 }}>
        <CartesianGrid stroke="#F1F1F1" strokeWidth={1.5} horizontalValues={yMinor} verticalValues={xMinor} />
        <CartesianGrid stroke="#EFEFEF" strokeWidth={3} horizontalValues={yTicks} verticalValues={xTicks} />
        <XAxis
          type="number"
          dataKey="x"
          domain={xDomain}
          ticks={xTicks}
          interval={0}
          height={60}
          axisLine={false}
          tickSize={10}
          tickMargin={xTickMargin}
          tickLine={{ stroke: '#000', strokeWidth: 3.6 }}
          tick={tickStyle}
          tickFormatter={(v: number) => v.toFixed(1)}
        />
        <YAxis
          type="number"
          dataKey="y"
          domain={yDomain}
          ticks={yTicks}
          interval={0}
          width={80}
          axisLine={false}
          tickSize={10}
          tickMargin={8}
          tickLine={{ stroke: '#000', strokeWidth: 3.6 }}
          tick={tickStyle}
        />
        <Scatter data={rows(greenPts)} shape={dot(7.5, GREEN)} isAnimationActive={false} />
        <Scatter data={rows(bluePts)} shape={dot(7.5, BLUE)} isAnimationActive={false} />
        <Scatter data={rows(redPts)} shape={dot(7.5, RED)} isAnimationActive={false} />
        <Scatter data={rows(redHull)} shape={noDot} line={hullLine(RED, RED_FILL)} isAnimationActive={false} />
        <Scatter data={rows(greenHull)} shape={noDot} line={hullLine(GREEN, GREEN_FILL)} isAnimationActive={false} />
        <Scatter data={rows(blueHull)} shape={noDot} line={hullLine(BLUE, BLUE_FILL)} isAnimationActive={false} />
        <Scatter data={rows([means[1]])} shape={dot(13, GREEN)} isAnimationActive={false} />
        <Scatter data={rows([means[2]])} shape={dot(13, BLUE)} isAnimationActive={false} />
        <Scatter data={rows([means[0]])} shape={dot(13, RED)} isAnimationActive={false} />
        <Scatter
          data={[{ x: xDomain[0], y: 0 }, { x: xDomain[1], y: 0 }]}
          shape={noDot}
          line={dashLine}
          isAnimationActive={false}
        />
        <Scatter
          data={[{ x: 0, y: yDomain[1] }, { x: 0, y: yDomain[0] }]}
          shape={noDot}
          line={dashLine}
          isAnimationActive={false}
        />
      </ScatterChart>
    </div>
  )
}

const legendItems = [
  { zh: '广西', en: 'Guangxi', color: RED, bg: '#FEF4F3', left: 613, textLeft: 683 },
  { zh: '河南', en: 'He’nan', color: GREEN, bg: '#E9FBEF', left: 855, textLeft: 928 },
  { zh: '江苏', en: 'Jiangsu', color: BLUE, bg: '#F3FAFF', left: 1066, textLeft: 1138 },
]

const fontStack = "'Liberation Sans', 'Noto Sans CJK SC', sans-serif"

const xTitles = [
  { text: '维度1 (Dim 1) (10.8%)', x: 956, y: 1245 },
  { text: '维度1 (Dim 1) (10.8%)', x: 546, y: 1913 },
  { text: '维度1 (Dim 1) (11.4%)', x: 1279, y: 1913 },
]
const yTitles = [
  { text: '维度2 (Dim 2) (8.9%)', x: 197, y: 682 },
  { text: '维度2 (Dim 2) (8.9%)', x: 197, y: 1540 },
  { text: '维度2 (Dim 2) (8%)', x: 933, y: 1552 },
]
const panelTags = [
  { text: '1A', x: 1584, y: 1196 },
  { text: '1B', x: 840, y: 1863 },
  { text: '1C', x: 1583, y: 1863 },
]

export default function App() {
  return (
    <div style={{ position: 'absolute', left: 0, top: 0, width: 1795, height: 1950, background: '#fff', overflow: 'hidden' }}>
      <Panel
        plot={{ left: 259, top: 121, right: 1557, bottom: 1155 }}
        xDomain={[-1.289, 1.593]}
        yDomain={[-1.349, 2.706]}
        xTicks={[-1, -0.5, 0, 0.5, 1, 1.5]}
        yTicks={[-1, 0, 1, 2]}
        xMinor={[-1.25, -0.75, -0.25, 0.25, 0.75, 1.25]}
        yMinor={[-0.5, 0.5, 1.5, 2.5]}
        xTickMargin={7}
        points={[aRed, aGreen, aBlue]}
        hulls={[aRedHull, aGreenHull, aBlueHull]}
        means={aMeans}
      />
      <Panel
        plot={{ left: 261, top: 1308, right: 828, bottom: 1822 }}
        xDomain={[-1.341, 1.369]}
        yDomain={[-1.424, 3.017]}
        xTicks={[-1, -0.5, 0, 0.5, 1]}
        yTicks={[-1, 0, 1, 2, 3]}
        xMinor={[-1.25, -0.75, -0.25, 0.25, 0.75, 1.25]}
        yMinor={[-0.5, 0.5, 1.5, 2.5]}
        xTickMargin={10}
        points={[bRed, bGreen, bBlue]}
        hulls={[bRedHull, bGreenHull, bBlueHull]}
        means={bMeans}
      />
      <Panel
        plot={{ left: 987, top: 1307, right: 1557, bottom: 1824 }}
        xDomain={[-1.411, 1.617]}
        yDomain={[-1.343, 3.733]}
        xTicks={[-1, -0.5, 0, 0.5, 1, 1.5]}
        yTicks={[-1, 0, 1, 2, 3]}
        xMinor={[-1.25, -0.75, -0.25, 0.25, 0.75, 1.25]}
        yMinor={[-0.5, 0.5, 1.5, 2.5, 3.5]}
        xTickMargin={8}
        points={[cRed, cGreen, cBlue]}
        hulls={[cRedHull, cGreenHull, cBlueHull]}
        means={cMeans}
      />
      <svg width={1795} height={1950} style={{ position: 'absolute', left: 0, top: 0, pointerEvents: 'none' }}>
        {legendItems.map((it) => (
          <g key={it.en}>
            <rect x={it.left + 1.5} y={33} width={56} height={56} fill={it.bg} stroke={it.color} strokeWidth={3} />
            <circle cx={it.left + 29.5} cy={61} r={13} fill={it.color} />
            <text x={it.textLeft} y={56} fontFamily={fontStack} fontSize={29} fill="#000">{it.zh}</text>
            <text x={it.textLeft} y={90} fontFamily={fontStack} fontSize={29} fill="#000">{it.en}</text>
          </g>
        ))}
        {xTitles.map((t) => (
          <text key={t.x} x={t.x} y={t.y} textAnchor="middle" fontFamily={fontStack} fontSize={29} fill="#111">{t.text}</text>
        ))}
        {yTitles.map((t) => (
          <text key={t.y} transform={`translate(${t.x},${t.y}) rotate(-90)`} textAnchor="middle" fontFamily={fontStack} fontSize={29} fill="#111">{t.text}</text>
        ))}
        {panelTags.map((t) => (
          <text key={t.text} x={t.x} y={t.y} fontFamily={fontStack} fontWeight="bold" fontSize={58} fill="#000">{t.text}</text>
        ))}
      </svg>
    </div>
  )
}
